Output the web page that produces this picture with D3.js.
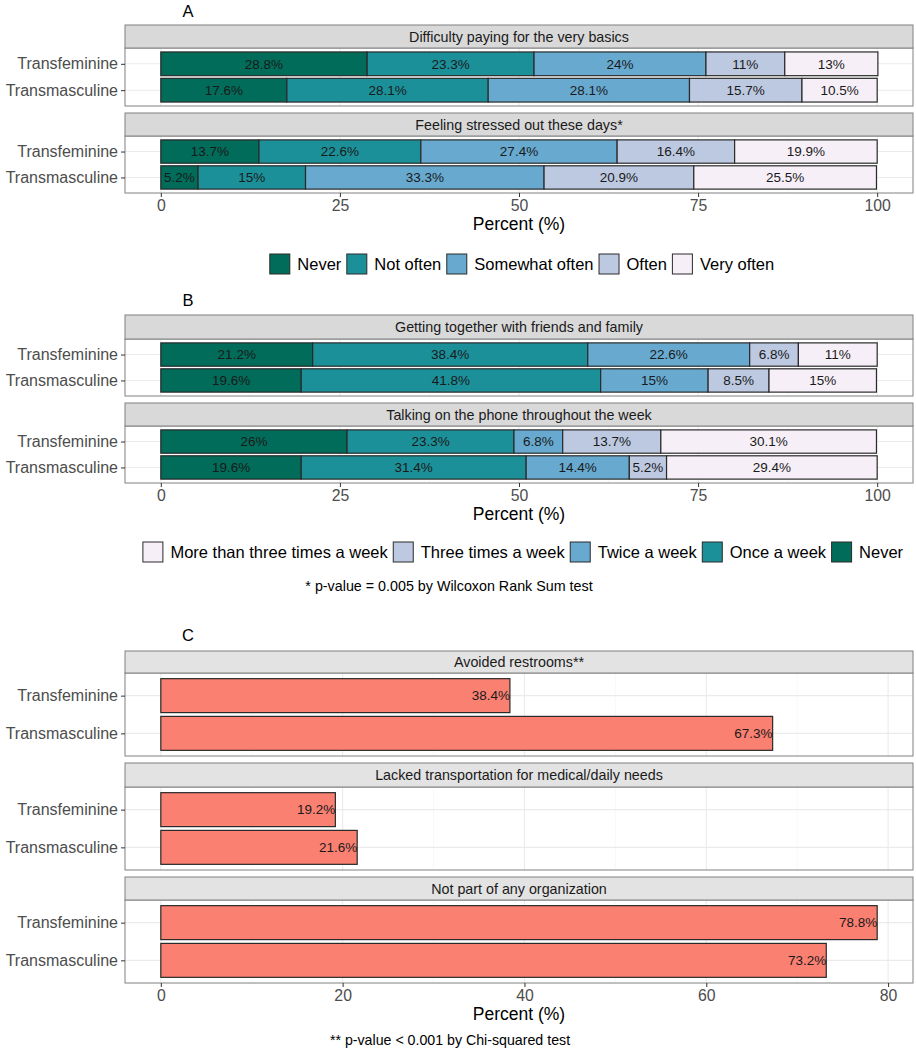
<!DOCTYPE html>
<html>
<head>
<meta charset="utf-8">
<script src="https://cdn.jsdelivr.net/npm/d3@7"></script>
<style>
  html, body { margin: 0; padding: 0; background: #fff; }
  svg { display: block; font-family: "Liberation Sans", Arial, sans-serif; }
</style>
</head>
<body>
<svg id="chart" width="916" height="1050"></svg>
<script>
// ---------------- DATA ----------------
const groups = ["Transfeminine", "Transmasculine"];

// Panel A
const freqLevels = ["Never", "Not often", "Somewhat often", "Often", "Very often"];
const freqColors = ["#016c59", "#1c9099", "#67a9cf", "#bdc9e1", "#f6eff7"];
const aFacets = ["Difficulty paying for the very basics", "Feeling stressed out these days*"];
const aBasicsTransfeminine = [28.8, 23.3, 24, 11, 13];
const aBasicsTransmasculine = [17.6, 28.1, 28.1, 15.7, 10.5];
const aStressTransfeminine = [13.7, 22.6, 27.4, 16.4, 19.9];
const aStressTransmasculine = [5.2, 15, 33.3, 20.9, 25.5];

// Panel B (stack order left to right)
const weekLevels = ["Never", "Once a week", "Twice a week", "Three times a week", "More than three times a week"];
const weekColors = ["#016c59", "#1c9099", "#67a9cf", "#bdc9e1", "#f6eff7"];
const weekLegendOrder = ["More than three times a week", "Three times a week", "Twice a week", "Once a week", "Never"];
const bFacets = ["Getting together with friends and family", "Talking on the phone throughout the week"];
const bFriendsTransfeminine = [21.2, 38.4, 22.6, 6.8, 11];
const bFriendsTransmasculine = [19.6, 41.8, 15, 8.5, 15];
const bPhoneTransfeminine = [26, 23.3, 6.8, 13.7, 30.1];
const bPhoneTransmasculine = [19.6, 31.4, 14.4, 5.2, 29.4];

// Panel C
const cFacets = ["Avoided restrooms**", "Lacked transportation for medical/daily needs", "Not part of any organization"];
const cTransfeminine = [38.4, 19.2, 78.8];
const cTransmasculine = [67.3, 21.6, 73.2];

const stackTicks = [0, 25, 50, 75, 100];
const stackMinor = [12.5, 37.5, 62.5, 87.5];
const cTicks = [0, 20, 40, 60, 80];
const cMinor = [10, 30, 50, 70];

const footnoteB = "* p-value = 0.005 by Wilcoxon Rank Sum test";
const footnoteC = "** p-value < 0.001 by Chi-squared test";
const axisTitle = "Percent (%)";

// ---------------- DRAW ----------------
const svg = d3.select("#chart");
const PL = 125, PR = 913;
const fmt = v => v + "%";

function drawFacet(opts) {
  const g = svg.append("g");
  const yc = d3.scalePoint().domain(groups)
    .range([opts.stripBottom, opts.panelBottom]).padding(0.6);
  const unit = (opts.panelBottom - opts.stripBottom) / 2.2;
  const barH = unit * 0.9;

  g.append("rect").attr("x", PL).attr("y", opts.stripBottom)
    .attr("width", PR - PL).attr("height", opts.panelBottom - opts.stripBottom)
    .attr("fill", "#fff");
  g.selectAll(".minor").data(opts.minor).join("line")
    .attr("x1", d => opts.x(d)).attr("x2", d => opts.x(d))
    .attr("y1", opts.stripBottom).attr("y2", opts.panelBottom)
    .attr("stroke", "#f4f4f4").attr("stroke-width", 0.6);
  g.selectAll(".major").data(opts.major).join("line")
    .attr("x1", d => opts.x(d)).attr("x2", d => opts.x(d))
    .attr("y1", opts.stripBottom).attr("y2", opts.panelBottom)
    .attr("stroke", "#ebebeb").attr("stroke-width", 1.1);
  g.selectAll(".hgrid").data(groups).join("line")
    .attr("x1", PL).attr("x2", PR)
    .attr("y1", d => yc(d)).attr("y2", d => yc(d))
    .attr("stroke", "#ebebeb").attr("stroke-width", 1.1);

  opts.rows.forEach(row => {
    const cy = yc(row.group);
    const rg = g.append("g");
    rg.selectAll("rect").data(row.segments).join("rect")
      .attr("x", d => opts.x(d.start))
      .attr("width", d => opts.x(d.end) - opts.x(d.start))
      .attr("y", cy - barH / 2).attr("height", barH)
      .attr("fill", d => d.color)
      .attr("stroke", "#2a2a2a").attr("stroke-width", 1.2);
    rg.selectAll("text").data(row.segments).join("text")
      .attr("x", d => opts.labelMode === "end" ? opts.x(d.end) : opts.x((d.start + d.end) / 2))
      .attr("y", cy).attr("dy", "0.36em")
      .attr("text-anchor", opts.labelMode === "end" ? "end" : "middle")
      .attr("font-size", 13.5).attr("fill", "#1a1a1a")
      .text(d => fmt(d.value));
  });

  g.append("rect").attr("x", PL).attr("y", opts.stripBottom)
    .attr("width", PR - PL).attr("height", opts.panelBottom - opts.stripBottom)
    .attr("fill", "none").attr("stroke", "#808080").attr("stroke-width", 1);

  g.append("rect").attr("x", PL).attr("y", opts.stripTop)
    .attr("width", PR - PL).attr("height", opts.stripBottom - opts.stripTop)
    .attr("fill", opts.stripFill).attr("stroke", "#808080").attr("stroke-width", 1);
  g.append("text").attr("x", (PL + PR) / 2)
    .attr("y", (opts.stripTop + opts.stripBottom) / 2).attr("dy", "0.36em")
    .attr("text-anchor", "middle").attr("font-size", 14.3).attr("fill", "#1a1a1a")
    .text(opts.title);

  const ax = g.append("g").attr("transform", `translate(${PL},0)`)
    .call(d3.axisLeft(yc).tickSize(4).tickPadding(3));
  ax.select(".domain").remove();
  ax.selectAll(".tick line").attr("stroke", "#333").attr("stroke-width", 1);
  ax.selectAll(".tick text").attr("font-size", 16).attr("fill", "#4d4d4d")
    .attr("font-family", "Liberation Sans, Arial, sans-serif");
}

function drawXAxis(x, ticks, panelBottom) {
  const ax = svg.append("g").attr("transform", `translate(0,${panelBottom})`)
    .call(d3.axisBottom(x).tickValues(ticks).tickSize(4).tickPadding(3).tickFormat(d3.format("d")));
  ax.select(".domain").remove();
  ax.selectAll(".tick line").attr("stroke", "#333");
  ax.selectAll(".tick text").attr("font-size", 15.8).attr("fill", "#4d4d4d")
    .attr("font-family", "Liberation Sans, Arial, sans-serif");
  svg.append("text").attr("x", (PL + PR) / 2).attr("y", panelBottom + 37)
    .attr("text-anchor", "middle").attr("font-size", 17.5).attr("fill", "#000")
    .text(axisTitle);
}

function stackSegments(values, colors) {
  let acc = 0;
  return values.map((v, i) => {
    const s = { start: acc, end: acc + v, value: v, color: colors[i] };
    acc += v;
    return s;
  });
}

function drawLegend(items, colors, cx, cy) {
  const key = 20, gapKT = 7.5, gapItem = 5.5, fs = 16.5;
  const g = svg.append("g");
  const tmp = svg.append("text").attr("font-size", fs);
  const widths = items.map(t => { tmp.text(t); return tmp.node().getComputedTextLength(); });
  tmp.remove();
  const total = d3.sum(widths) + items.length * (key + gapKT) + (items.length - 1) * gapItem;
  let x = cx - total / 2;
  items.forEach((t, i) => {
    g.append("rect").attr("x", x).attr("y", cy - key / 2).attr("width", key).attr("height", key)
      .attr("fill", colors[i]).attr("stroke", "#2a2a2a").attr("stroke-width", 1);
    g.append("text").attr("x", x + key + gapKT).attr("y", cy).attr("dy", "0.36em")
      .attr("font-size", fs).attr("fill", "#000").text(t);
    x += key + gapKT + widths[i] + gapItem;
  });
}

function panelLabel(t, y) {
  svg.append("text").attr("x", 188).attr("y", y).attr("text-anchor", "middle")
    .attr("font-size", 16.5).attr("fill", "#000").text(t);
}

// ----- Panel A -----
const xA = d3.scaleLinear().domain([-5, 105]).range([PL, PR]);
panelLabel("A", 17);
drawFacet({ stripTop: 25, stripBottom: 48, panelBottom: 106, x: xA, title: aFacets[0], stripFill: "#d9d9d9",
  minor: stackMinor, major: stackTicks, labelMode: "mid",
  rows: [{ group: groups[0], segments: stackSegments(aBasicsTransfeminine, freqColors) },
         { group: groups[1], segments: stackSegments(aBasicsTransmasculine, freqColors) }] });
drawFacet({ stripTop: 113, stripBottom: 136, panelBottom: 193, x: xA, title: aFacets[1], stripFill: "#d9d9d9",
  minor: stackMinor, major: stackTicks, labelMode: "mid",
  rows: [{ group: groups[0], segments: stackSegments(aStressTransfeminine, freqColors) },
         { group: groups[1], segments: stackSegments(aStressTransmasculine, freqColors) }] });
drawXAxis(xA, stackTicks, 193);
drawLegend(freqLevels, freqColors, 522, 264);

// ----- Panel B -----
const xB = d3.scaleLinear().domain([-5, 105]).range([PL, PR]);
panelLabel("B", 306);
drawFacet({ stripTop: 315, stripBottom: 339, panelBottom: 396, x: xB, title: bFacets[0], stripFill: "#d9d9d9",
  minor: stackMinor, major: stackTicks, labelMode: "mid",
  rows: [{ group: groups[0], segments: stackSegments(bFriendsTransfeminine, weekColors) },
         { group: groups[1], segments: stackSegments(bFriendsTransmasculine, weekColors) }] });
drawFacet({ stripTop: 403, stripBottom: 426, panelBottom: 483, x: xB, title: bFacets[1], stripFill: "#d9d9d9",
  minor: stackMinor, major: stackTicks, labelMode: "mid",
  rows: [{ group: groups[0], segments: stackSegments(bPhoneTransfeminine, weekColors) },
         { group: groups[1], segments: stackSegments(bPhoneTransmasculine, weekColors) }] });
drawXAxis(xB, stackTicks, 483);
drawLegend(weekLegendOrder, weekLegendOrder.map(l => weekColors[weekLevels.indexOf(l)]), 523, 552);
svg.append("text").attr("x", 449).attr("y", 591).attr("text-anchor", "middle")
  .attr("font-size", 14.3).attr("fill", "#000").text(footnoteB);

// ----- Panel C -----
const cMax = d3.max([...cTransfeminine, ...cTransmasculine]);
const xC = d3.scaleLinear().domain([0 - cMax * 0.05, cMax * 1.05]).range([PL, PR]);
panelLabel("C", 641);
const cLayout = [[651, 673, 756], [763, 787, 870], [877, 900, 983]];
cFacets.forEach((title, i) => {
  drawFacet({ stripTop: cLayout[i][0], stripBottom: cLayout[i][1], panelBottom: cLayout[i][2], x: xC, title,
    stripFill: "#e3e3e3", minor: cMinor, major: cTicks, labelMode: "end",
    rows: [{ group: groups[0], segments: [{ start: 0, end: cTransfeminine[i], value: cTransfeminine[i], color: "#fa8072" }] },
           { group: groups[1], segments: [{ start: 0, end: cTransmasculine[i], value: cTransmasculine[i], color: "#fa8072" }] }] });
});
drawXAxis(xC, cTicks, 983);
svg.append("text").attr("x", 450).attr("y", 1045).attr("text-anchor", "middle")
  .attr("font-size", 14.2).attr("fill", "#000").text(footnoteC);
</script>
</body>
</html>
